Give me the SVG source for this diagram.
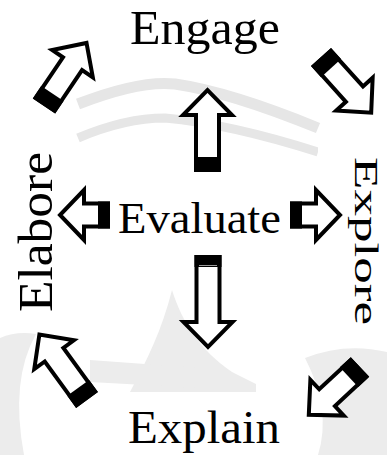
<svg xmlns="http://www.w3.org/2000/svg" width="387" height="455" viewBox="0 0 387 455">
  <style>
    .bg { fill: #ffffff; }
    .wm { fill: none; stroke: #e6e6e6; stroke-linecap: butt; }
    .wmf { fill: #ececec; stroke: none; }
    .lbl { font-family: "Liberation Serif", "Times New Roman", serif; fill: #000000; }
    .arw { fill: #ffffff; stroke: #000000; stroke-width: 4; stroke-linejoin: miter; stroke-miterlimit: 10; }
    .cap { fill: #000000; }
  </style>

  <rect class="bg" x="0" y="0" width="387" height="455"/>

  <!-- faint background emblem -->
  <g id="emblem">
    <path class="wm" stroke-width="11" d="M78,104 Q140,80 175,84 Q230,92 318,128"/>
    <path class="wm" stroke-width="9" d="M78,138 Q125,118 165,118 Q230,124 318,152"/>
    <path class="wmf" d="M130,392 C147,360 162,330 172,290 C182,322 200,350 232,372 L256,384 L256,392 Z"/>
    <path class="wmf" d="M90,360 L200,368 L200,388 L90,382 Z"/>
    <path class="wmf" d="M0,338 Q16,331 36,334 Q10,380 24,455 L0,455 Z"/>
    <path class="wmf" d="M305,358 Q345,342 387,352 L387,455 L318,455 Q332,410 305,358 Z"/>
    <rect class="bg" x="318" y="137" width="69" height="195"/>
  </g>

  <!-- labels -->
  <g id="engage">
    <text class="lbl" x="205" y="44" font-size="49" text-anchor="middle" textLength="150" lengthAdjust="spacingAndGlyphs">Engage</text>
  </g>
  <g id="evaluate">
    <text class="lbl" x="199.5" y="233" font-size="45" text-anchor="middle" textLength="163" lengthAdjust="spacingAndGlyphs">Evaluate</text>
  </g>
  <g id="explain">
    <text class="lbl" x="204" y="443" font-size="47" text-anchor="middle" textLength="152" lengthAdjust="spacingAndGlyphs">Explain</text>
  </g>
  <g id="elabore">
    <text class="lbl" transform="translate(52,232) rotate(-90)" x="0" y="0" font-size="48" text-anchor="middle" textLength="160" lengthAdjust="spacingAndGlyphs">Elabore</text>
  </g>
  <g id="explore">
    <text class="lbl" transform="translate(355,241) rotate(90) scale(1,0.72)" x="0" y="0" font-size="48" text-anchor="middle" textLength="168" lengthAdjust="spacingAndGlyphs">Explore</text>
  </g>

  <!-- block arrows: tail at local origin, pointing along +x -->
  <g id="connectors">
    <g transform="translate(207.5,172) rotate(-90)">
      <path class="arw" d="M2,-11.5 H57 V-24.5 L82,0 L57,24.5 V11.5 H2 Z"/>
      <rect class="cap" x="0" y="-13.5" width="15" height="27"/>
    </g>
    <g transform="translate(208,255) rotate(90)">
      <path class="arw" d="M2,-11.5 H67 V-24.5 L92,0 L67,24.5 V11.5 H2 Z"/>
      <rect class="cap" x="0" y="-13.5" width="12" height="27"/>
      <line x1="10.5" y1="-9" x2="10.5" y2="9" stroke="#9a9a9a" stroke-width="1"/>
    </g>
    <g transform="translate(110,215) rotate(180)">
      <path class="arw" d="M2,-11.5 H26 V-25 L50,0 L26,25 V11.5 H2 Z"/>
      <rect class="cap" x="0" y="-13.5" width="12" height="27"/>
    </g>
    <g transform="translate(290,215)">
      <path class="arw" d="M2,-11.5 H26 V-25 L50,0 L26,25 V11.5 H2 Z"/>
      <rect class="cap" x="0" y="-13.5" width="12" height="27"/>
    </g>
    <g transform="translate(44,106) rotate(-56)">
      <path class="arw" d="M2,-11.5 H51 V-24.5 L76,0 L51,24.5 V11.5 H2 Z"/>
      <rect class="cap" x="0" y="-13.5" width="15" height="27"/>
    </g>
    <g transform="translate(321,57) rotate(48)">
      <path class="arw" d="M2,-11.5 H50 V-24.5 L75,0 L50,24.5 V11.5 H2 Z"/>
      <rect class="cap" x="0" y="-13.5" width="15" height="27"/>
    </g>
    <g transform="translate(87,400) rotate(-126)">
      <path class="arw" d="M2,-11.5 H56 V-24.5 L81,0 L56,24.5 V11.5 H2 Z"/>
      <rect class="cap" x="0" y="-13.5" width="15" height="27"/>
    </g>
    <g transform="translate(360,367) rotate(137)">
      <path class="arw" d="M2,-11.5 H45 V-24.5 L70,0 L45,24.5 V11.5 H2 Z"/>
      <rect class="cap" x="0" y="-13.5" width="15" height="27"/>
    </g>
  </g>
</svg>
